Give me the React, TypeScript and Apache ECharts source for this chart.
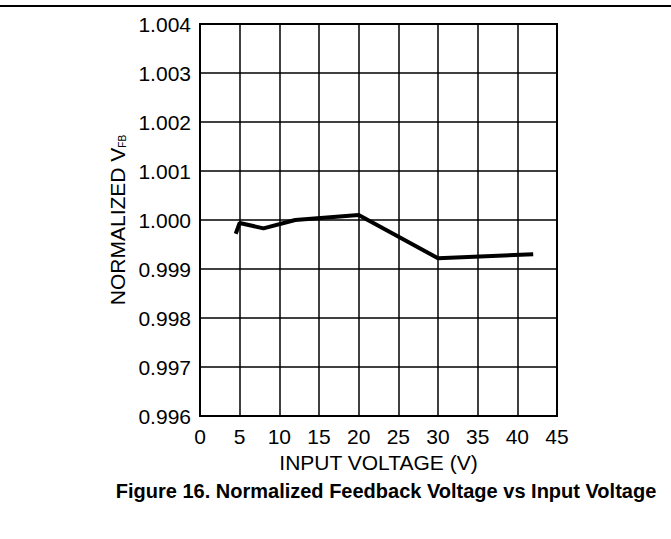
import React, { useEffect, useRef } from "react";
import * as echarts from "echarts";

const inputVoltage = [4.5, 5, 8, 12, 20, 30, 42];
const normalizedVfb = [0.99972, 0.99994, 0.99983, 1.0, 1.0001, 0.99922, 0.9993];
const xTicks = { min: 0, max: 45, interval: 5 };
const yTicks = { min: 0.996, max: 1.004, interval: 0.001 };
const xAxisTitle = "INPUT VOLTAGE (V)";
const yAxisTitle = "NORMALIZED V{sub|FB}";
const caption = "Figure 16. Normalized Feedback Voltage vs Input Voltage";

export default function App() {
  const ref = useRef<HTMLDivElement>(null);
  useEffect(() => {
    if (!ref.current) return;
    const chart = echarts.init(ref.current, null, { renderer: "svg" });
    const font = "'Liberation Sans', Arial, sans-serif";
    chart.setOption({
      animation: false,
      backgroundColor: "#fff",
      grid: {
        left: 200,
        right: 114,
        top: 24,
        bottom: 123,
        show: true,
        borderColor: "#000",
        borderWidth: 2,
      },
      xAxis: {
        type: "value",
        min: xTicks.min,
        max: xTicks.max,
        interval: xTicks.interval,
        name: xAxisTitle,
        nameLocation: "middle",
        nameGap: 36,
        nameTextStyle: { fontFamily: font, fontSize: 21, color: "#000" },
        axisLine: { show: true, lineStyle: { color: "#000", width: 2 } },
        axisTick: { show: false },
        axisLabel: { fontFamily: font, fontSize: 21, color: "#000", margin: 10 },
        splitLine: { show: true, lineStyle: { color: "#000", width: 1.5 } },
      },
      yAxis: {
        type: "value",
        min: yTicks.min,
        max: yTicks.max,
        interval: yTicks.interval,
        name: yAxisTitle,
        nameLocation: "middle",
        nameGap: 67,
        nameRotate: 90,
        nameTextStyle: {
          fontFamily: font,
          fontSize: 21,
          color: "#000",
          rich: {
            sub: { fontFamily: font, fontSize: 10, color: "#000", verticalAlign: "bottom", padding: [8, 0, 0, 0] },
          },
        },
        axisLine: { show: true, lineStyle: { color: "#000", width: 2 } },
        axisTick: { show: false },
        axisLabel: {
          fontFamily: font,
          fontSize: 21,
          color: "#000",
          margin: 9,
          formatter: (v: number) => v.toFixed(3),
        },
        splitLine: { show: true, lineStyle: { color: "#000", width: 1.5 } },
      },
      graphic: [
        {
          type: "line",
          shape: { x1: 0, y1: 6, x2: 671, y2: 6 },
          style: { stroke: "#000", lineWidth: 2 },
        },
        {
          type: "text",
          x: 386,
          y: 491,
          style: {
            text: caption,
            fontFamily: font,
            fontSize: 20,
            fontWeight: "bold",
            fill: "#000",
            textAlign: "center",
            textVerticalAlign: "middle",
          },
        },
      ],
      series: [
        {
          type: "line",
          data: inputVoltage.map((x, i) => [x, normalizedVfb[i]]),
          showSymbol: false,
          symbol: "none",
          lineStyle: { color: "#000", width: 4 },
        },
      ],
    });
    return () => chart.dispose();
  }, []);
  return (
    <div
      ref={ref}
      style={{ position: "fixed", left: 0, top: 0, width: 671, height: 539, background: "#fff" }}
    />
  );
}
